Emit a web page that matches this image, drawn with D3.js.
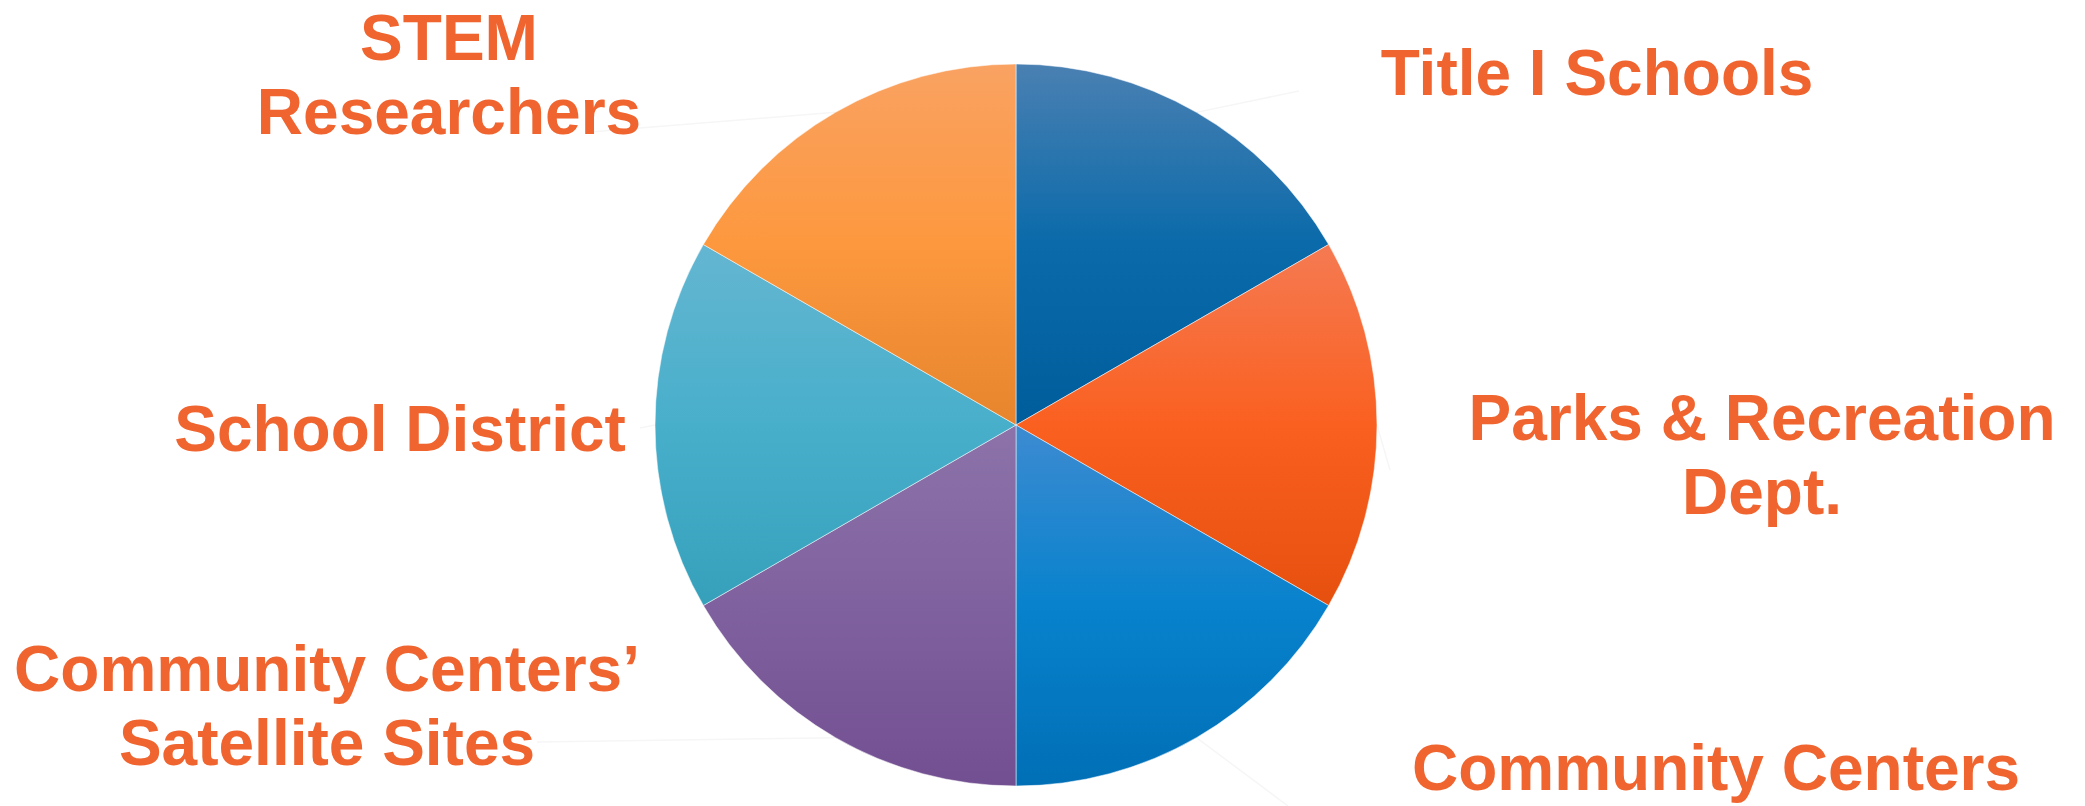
<!DOCTYPE html>
<html>
<head>
<meta charset="utf-8">
<script src="https://cdn.jsdelivr.net/npm/d3@7"></script>
<style>
  html, body { margin: 0; padding: 0; background: #ffffff; }
  svg { display: block; }
</style>
</head>
<body>
<svg id="chart" width="2085" height="806"></svg>
<script>
// ---- data ----
const categories = [
  "Title I Schools",
  "Parks & Recreation Dept.",
  "Community Centers",
  "Community Centers’ Satellite Sites",
  "School District",
  "STEM Researchers"
];
const values = [1, 1, 1, 1, 1, 1];
const labelLines = [
  ["Title I Schools"],
  ["Parks & Recreation", "Dept."],
  ["Community Centers"],
  ["Community Centers’", "Satellite Sites"],
  ["School District"],
  ["STEM", "Researchers"]
];
const topColors    = ["#4a80b2", "#f57a52", "#3d8bd1", "#8c73a9", "#64b6d1", "#f9a262"];
const midColors    = ["#0a6aaa", "#fa6020", "#0882cd", "#80619f", "#48afcb", "#fd983e"];
const bottomColors = ["#005d9c", "#e6500f", "#006fb6", "#724f91", "#36a0bb", "#e6852d"];

// ---- layout ----
const width = 2085, height = 806;
const cx = 1016, cy = 425, R = 361;
const labelColor = "#f0642f";
const fontSize = 64, lineGap = 74;
// label anchor (center x, first baseline y) per slice
const labelPos = [
  [1597, 95],
  [1762, 440],
  [1716, 790],
  [327, 691],
  [400, 451],
  [449, 60]
];
// leader line end points
const leaderEnds = [
  [1299, 91],
  [1390, 470],
  [1288, 806],
  [537, 742],
  [640, 428],
  [590, 132]
];

const svg = d3.select("#chart");
const defs = svg.append("defs");

const pie = d3.pie().sort(null).value(d => d)(values);
const arc = d3.arc().innerRadius(0).outerRadius(R);

pie.forEach((d, i) => {
  const g = defs.append("linearGradient")
    .attr("id", "grad" + i)
    .attr("x1", 0).attr("y1", 0).attr("x2", 0).attr("y2", 1);
  g.append("stop").attr("offset", "0%").attr("stop-color", topColors[i]);
  g.append("stop").attr("offset", "50%").attr("stop-color", midColors[i]);
  g.append("stop").attr("offset", "100%").attr("stop-color", bottomColors[i]);
});

// leader lines (very faint)
const leaders = svg.append("g");
pie.forEach((d, i) => {
  const a = (d.startAngle + d.endAngle) / 2;
  const x0 = cx + R * Math.sin(a), y0 = cy - R * Math.cos(a);
  leaders.append("line")
    .attr("x1", x0).attr("y1", y0)
    .attr("x2", leaderEnds[i][0]).attr("y2", leaderEnds[i][1])
    .attr("stroke", "#f6f6f6").attr("stroke-width", 1.5);
});

const slices = svg.append("g").attr("transform", `translate(${cx},${cy})`);
slices.selectAll("path")
  .data(pie)
  .join("path")
  .attr("d", arc)
  .attr("fill", (d, i) => `url(#grad${i})`)
  .attr("stroke", "#ffffff")
  .attr("stroke-width", 0.5);

const labels = svg.append("g")
  .attr("font-family", "'Liberation Sans', Arial, Helvetica, sans-serif")
  .attr("font-weight", "bold")
  .attr("font-size", fontSize)
  .attr("fill", labelColor)
  .attr("text-anchor", "middle");

labelLines.forEach((lines, i) => {
  const t = labels.append("text")
    .attr("x", labelPos[i][0]).attr("y", labelPos[i][1]);
  lines.forEach((ln, j) => {
    t.append("tspan")
      .attr("x", labelPos[i][0])
      .attr("dy", j === 0 ? 0 : lineGap)
      .text(ln);
  });
});
</script>
</body>
</html>
